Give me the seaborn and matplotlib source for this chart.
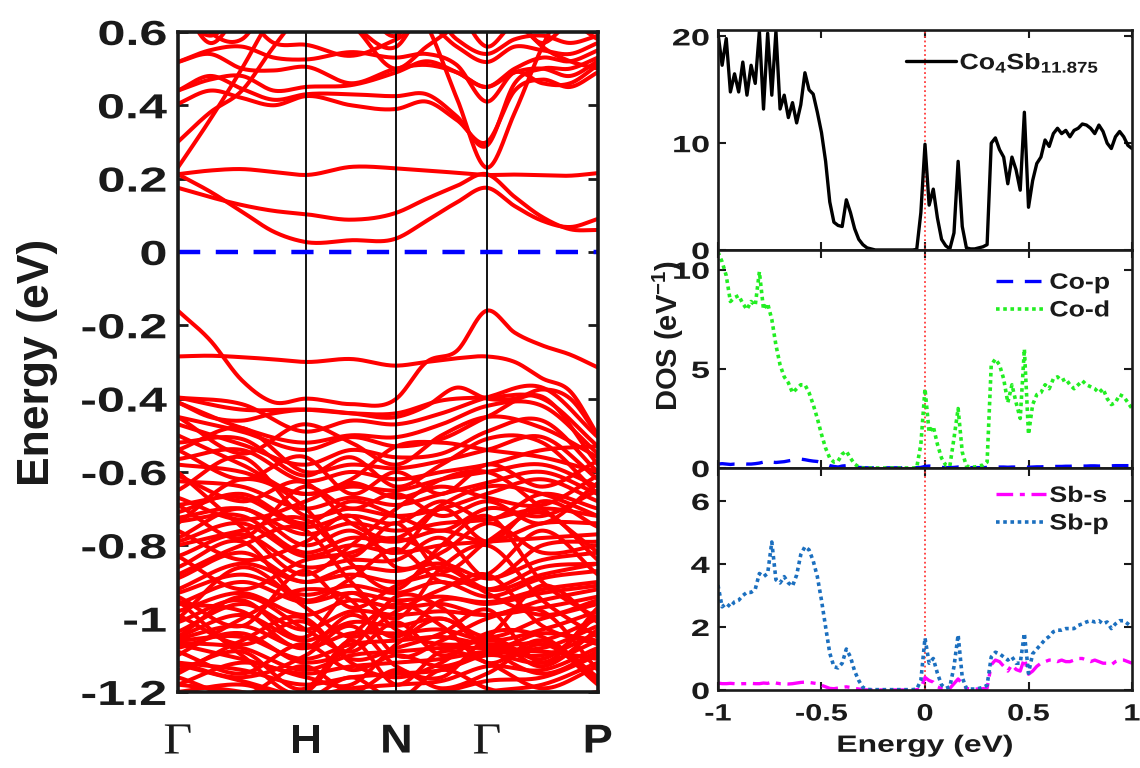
import numpy as np
import matplotlib
matplotlib.use("Agg")
import matplotlib.pyplot as plt
from matplotlib.patheffects import AbstractPathEffect
from matplotlib.transforms import Affine2D
import seaborn as sns

# ---------------- band structure: k-path ----------------
path_labels = ["Γ", "H", "N", "Γ", "P"]
path_k = [0.0, 1.0, 1.707, 2.414, 3.280]

# sampling points along the path (fine: near-gap bands, coarse: deep valence manifold)
k_fine = [0.0, 0.25, 0.5, 0.75, 1.0, 1.354, 1.707, 1.943, 2.178, 2.414, 2.631, 2.847, 3.064, 3.280]
k_coarse = [0.0, 0.5, 1.0, 1.354, 1.707, 2.060, 2.414, 2.847, 3.280]

# conduction bands (eV) on k_fine
cond_bands = [
    [0.212, 0.222, 0.226, 0.218, 0.210, 0.232, 0.228, 0.222, 0.216, 0.210, 0.211, 0.209, 0.208, 0.215],
    [0.212, 0.165, 0.110, 0.055, 0.027, 0.032, 0.037, 0.085, 0.135, 0.175, 0.125, 0.085, 0.068, 0.090],
    [0.175, 0.150, 0.128, 0.112, 0.103, 0.088, 0.107, 0.145, 0.180, 0.212, 0.150, 0.095, 0.062, 0.060],
    [0.230, 0.360, 0.500, 0.650, 0.750, 0.760, 0.720, 0.620, 0.420, 0.230, 0.380, 0.560, 0.700, 0.760],
    [0.300, 0.380, 0.440, 0.560, 0.660, 0.620, 0.500, 0.560, 0.620, 0.700, 0.640, 0.560, 0.520, 0.500],
    [0.404, 0.440, 0.420, 0.400, 0.425, 0.400, 0.390, 0.410, 0.360, 0.300, 0.440, 0.470, 0.450, 0.490],
    [0.440, 0.480, 0.445, 0.415, 0.430, 0.430, 0.425, 0.430, 0.370, 0.290, 0.460, 0.500, 0.500, 0.530],
    [0.518, 0.540, 0.500, 0.495, 0.505, 0.460, 0.500, 0.510, 0.490, 0.450, 0.500, 0.530, 0.520, 0.550],
    [0.518, 0.550, 0.560, 0.530, 0.525, 0.545, 0.530, 0.540, 0.510, 0.410, 0.490, 0.460, 0.460, 0.510],
    [0.440, 0.470, 0.480, 0.440, 0.450, 0.455, 0.490, 0.520, 0.490, 0.450, 0.490, 0.500, 0.480, 0.520],
    [0.650, 0.590, 0.640, 0.570, 0.565, 0.535, 0.580, 0.620, 0.560, 0.518, 0.560, 0.550, 0.540, 0.570],
    [0.700, 0.570, 0.660, 0.700, 0.680, 0.620, 0.560, 0.660, 0.580, 0.540, 0.580, 0.590, 0.570, 0.590],
    [0.720, 0.600, 0.580, 0.700, 0.750, 0.720, 0.590, 0.700, 0.660, 0.560, 0.620, 0.570, 0.620, 0.580],
]

# upper valence bands (eV) on k_fine
top_valence_bands = [
    [-0.160, -0.240, -0.350, -0.410, -0.400, -0.415, -0.400, -0.300, -0.270, -0.160, -0.220, -0.255, -0.280, -0.315],
    [-0.285, -0.283, -0.287, -0.293, -0.300, -0.292, -0.310, -0.300, -0.290, -0.285, -0.300, -0.345, -0.380, -0.500],
    [-0.410, -0.450, -0.460, -0.440, -0.430, -0.440, -0.450, -0.420, -0.370, -0.400, -0.400, -0.375, -0.400, -0.500],
]

# deep valence manifold (eV) on k_coarse: G, G-H, H, H-N, N, N-G, G, G-P, P
deep_bands = [
    [-0.397, -0.430, -0.430, -0.440, -0.440, -0.405, -0.397, -0.400, -0.530],
    [-0.397, -0.415, -0.490, -0.460, -0.470, -0.440, -0.397, -0.370, -0.505],
    [-0.410, -0.480, -0.520, -0.500, -0.505, -0.470, -0.420, -0.420, -0.550],
    [-0.450, -0.490, -0.540, -0.505, -0.530, -0.510, -0.450, -0.395, -0.580],
    [-0.470, -0.525, -0.580, -0.540, -0.560, -0.550, -0.490, -0.460, -0.600],
    [-0.540, -0.480, -0.600, -0.580, -0.590, -0.570, -0.540, -0.505, -0.620],
    [-0.565, -0.540, -0.625, -0.600, -0.620, -0.600, -0.580, -0.540, -0.530],
    [-0.580, -0.600, -0.660, -0.640, -0.650, -0.620, -0.600, -0.580, -0.640],
    [-0.625, -0.640, -0.700, -0.670, -0.690, -0.660, -0.630, -0.600, -0.660],
    [-0.650, -0.560, -0.720, -0.700, -0.720, -0.700, -0.660, -0.620, -0.680],
    [-0.690, -0.670, -0.750, -0.720, -0.740, -0.680, -0.730, -0.660, -0.700],
    [-0.725, -0.700, -0.770, -0.740, -0.760, -0.740, -0.730, -0.700, -0.720],
    [-0.735, -0.720, -0.820, -0.780, -0.790, -0.760, -0.790, -0.740, -0.740],
    [-0.790, -0.740, -0.830, -0.800, -0.820, -0.800, -0.790, -0.780, -0.770],
    [-0.830, -0.770, -0.860, -0.840, -0.840, -0.780, -0.890, -0.800, -0.790],
    [-0.890, -0.820, -0.900, -0.860, -0.870, -0.850, -0.890, -0.840, -0.820],
    [-0.920, -0.850, -0.900, -0.880, -0.900, -0.880, -0.920, -0.860, -0.850],
    [-0.930, -0.880, -0.935, -0.910, -0.930, -0.900, -0.940, -0.890, -0.870],
    [-0.960, -0.900, -0.955, -0.930, -0.950, -0.940, -0.955, -0.920, -0.900],
    [-0.980, -0.930, -0.990, -0.950, -0.970, -0.960, -0.990, -0.950, -0.920],
    [-1.036, -0.960, -1.030, -0.980, -0.990, -0.980, -0.990, -0.970, -0.940],
    [-1.050, -0.990, -1.060, -1.010, -1.020, -1.000, -1.050, -1.000, -0.960],
    [-1.055, -1.020, -1.080, -1.040, -1.040, -1.030, -1.060, -1.030, -0.980],
    [-1.060, -1.050, -1.110, -1.070, -1.060, -1.050, -1.070, -1.060, -1.000],
    [-1.065, -1.080, -1.140, -1.100, -1.090, -1.080, -1.080, -1.080, -1.020],
    [-1.070, -1.110, -1.150, -1.130, -1.120, -1.110, -1.090, -1.100, -1.040],
    [-1.120, -1.140, -1.180, -1.160, -1.150, -1.140, -1.100, -1.120, -1.060],
    [-1.125, -1.170, -1.210, -1.190, -1.180, -1.170, -1.130, -1.140, -1.080],
    [-1.180, -1.200, -1.240, -1.220, -1.210, -1.200, -1.170, -1.160, -1.100],
    [-1.210, -1.230, -1.260, -1.250, -1.240, -1.230, -1.200, -1.180, -1.120],
    [-0.600, -0.750, -0.880, -0.800, -0.700, -0.620, -0.600, -0.700, -0.820],
    [-0.740, -0.620, -0.700, -0.850, -0.920, -0.800, -0.720, -0.900, -1.000],
    [-0.880, -0.800, -0.760, -0.900, -1.000, -0.860, -0.800, -0.950, -1.050],
    [-1.000, -0.860, -0.970, -1.050, -0.980, -0.920, -0.880, -1.020, -1.070],
    [-1.100, -1.000, -0.920, -0.950, -1.100, -1.060, -1.000, -0.980, -1.140],
    [-1.150, -1.060, -1.000, -1.120, -1.160, -1.120, -1.040, -1.050, -1.160],
    [-0.950, -1.100, -1.200, -1.050, -0.960, -1.020, -1.120, -1.060, -1.180],
    [-0.500, -0.580, -0.660, -0.620, -0.530, -0.520, -0.540, -0.560, -0.600],
    [-0.540, -0.620, -0.560, -0.660, -0.600, -0.660, -0.580, -0.640, -0.570],
    [-0.690, -0.780, -0.640, -0.700, -0.660, -0.720, -0.680, -0.740, -0.630],
    [-0.780, -0.700, -0.800, -0.760, -0.820, -0.700, -0.790, -0.680, -0.750],
    [-0.830, -0.920, -0.840, -0.820, -0.780, -0.840, -0.920, -0.880, -0.850],
    [-0.960, -0.980, -1.080, -0.990, -1.050, -0.950, -0.960, -0.930, -0.910],
    [-1.050, -0.940, -1.030, -1.090, -1.010, -1.100, -1.050, -1.110, -0.990],
    [-1.120, -1.160, -1.100, -1.020, -1.130, -1.160, -1.060, -1.130, -1.030],
    [-1.180, -1.120, -1.160, -1.180, -1.070, -1.000, -1.080, -1.150, -1.090],
    [-0.450, -0.550, -0.470, -0.520, -0.580, -0.500, -0.450, -0.480, -0.560],
    [-0.710, -0.660, -0.740, -0.680, -0.720, -0.760, -0.700, -0.720, -0.650],
    [-0.610, -0.680, -0.630, -0.740, -0.780, -0.690, -0.640, -0.660, -0.720],
    [-0.760, -0.840, -0.790, -0.720, -0.860, -0.820, -0.740, -0.820, -0.800],
    [-0.860, -0.790, -0.950, -0.890, -0.810, -0.900, -0.880, -0.760, -0.880],
    [-0.940, -1.020, -0.870, -0.970, -0.910, -0.860, -0.930, -0.990, -0.950],
    [-1.010, -0.950, -1.050, -0.930, -1.030, -1.070, -1.050, -0.910, -1.010],
    [-1.080, -1.040, -1.120, -1.080, -0.940, -0.970, -1.075, -1.040, -1.060],
    [-1.090, -1.150, -1.070, -1.140, -1.100, -1.130, -1.095, -1.090, -1.110],
    [-1.140, -1.090, -1.190, -1.060, -1.180, -1.090, -1.120, -1.190, -1.130],
    [-1.160, -1.210, -1.130, -1.200, -1.140, -1.190, -1.150, -1.070, -1.170],
    [-1.200, -1.180, -1.220, -1.160, -1.220, -1.140, -1.190, -1.220, -1.200],
    [-0.670, -0.730, -0.680, -0.630, -0.670, -0.640, -0.670, -0.690, -0.610],
    [-0.800, -0.760, -0.730, -0.830, -0.740, -0.870, -0.790, -0.710, -0.840],
    [-0.520, -0.510, -0.610, -0.560, -0.640, -0.580, -0.510, -0.520, -0.660],
    [-0.990, -1.070, -1.010, -1.110, -1.080, -1.040, -0.975, -1.120, -0.970],
]

band_yticks = [-1.2, -1.0, -0.8, -0.6, -0.4, -0.2, 0.0, 0.2, 0.4, 0.6]
band_yticklabels = ["-1.2", "-1", "-0.8", "-0.6", "-0.4", "-0.2", "0", "0.2", "0.4", "0.6"]

# ---------------- density of states ----------------
energy = np.round(np.linspace(-1.0, 1.0, 101), 2)

dos_total = [
    20.3, 17.3, 19.8, 14.8, 16.5, 14.8, 17.6, 14.5, 17.3, 15.6,
    20.5, 13.2, 20.3, 14.5, 20.5, 13.2, 14.5, 12.4, 13.8, 11.9,
    13.6, 16.6, 15.0, 14.6, 12.9, 11.0, 8.3, 4.5, 2.6, 2.3,
    2.2, 4.7, 3.5, 2.0, 1.0, 0.5, 0.2, 0.1, 0.0, 0.0,
    0.0, 0.0, 0.0, 0.0, 0.0, 0.0, 0.0, 0.0, 0.05, 3.5,
    9.9, 4.2, 5.7, 3.0, 1.0, 0.4, 0.1, 1.6, 8.3, 2.2,
    0.2, 0.1, 0.1, 0.2, 0.3, 0.5, 10.0, 10.5, 9.4, 8.7,
    6.2, 8.7, 7.5, 5.6, 12.9, 4.0, 6.5, 8.1, 8.7, 10.3,
    9.7, 10.9, 11.4, 10.9, 11.2, 10.6, 11.2, 11.4, 11.8, 11.7,
    11.4, 10.9, 11.7, 11.1, 10.0, 9.5, 10.6, 11.1, 10.6, 9.8,
    9.5,
]

co_p = [
    0.20, 0.22, 0.20, 0.18, 0.20, 0.20, 0.22, 0.20, 0.20, 0.22,
    0.25, 0.30, 0.38, 0.30, 0.28, 0.30, 0.32, 0.36, 0.40, 0.43,
    0.45, 0.42, 0.38, 0.35, 0.33, 0.28, 0.20, 0.12, 0.08, 0.05,
    0.10, 0.12, 0.08, 0.05, 0.03, 0.02, 0.01, 0.01, 0.01, 0.01,
    0.01, 0.01, 0.01, 0.01, 0.01, 0.01, 0.01, 0.01, 0.02, 0.03,
    0.08, 0.10, 0.08, 0.05, 0.03, 0.02, 0.02, 0.03, 0.05, 0.03,
    0.02, 0.02, 0.02, 0.02, 0.02, 0.03, 0.05, 0.06, 0.05, 0.05,
    0.04, 0.05, 0.05, 0.04, 0.06, 0.04, 0.05, 0.06, 0.06, 0.07,
    0.07, 0.08, 0.08, 0.08, 0.09, 0.09, 0.10, 0.10, 0.10, 0.10,
    0.11, 0.11, 0.10, 0.11, 0.12, 0.11, 0.12, 0.12, 0.12, 0.12,
    0.12,
]

co_d = [
    10.9, 10.4, 9.7, 8.4, 8.6, 8.7, 8.3, 8.0, 8.4, 8.2,
    9.9, 8.0, 8.3, 7.5, 6.2, 5.2, 4.6, 4.3, 3.8, 4.0,
    4.2, 4.2, 3.8, 3.2, 2.5, 1.7, 1.0, 0.5, 0.3, 0.35,
    0.7, 0.85, 0.5, 0.2, 0.05, 0.0, 0.0, 0.0, 0.0, 0.0,
    0.0, 0.0, 0.0, 0.0, 0.0, 0.0, 0.0, 0.0, 0.02, 1.2,
    4.0, 1.8, 2.1, 1.2, 0.5, 0.15, 0.1, 1.5, 3.0, 0.8,
    0.1, 0.05, 0.05, 0.1, 0.15, 0.3, 5.2, 5.5, 5.2, 4.5,
    3.3, 4.2, 3.3, 2.5, 6.0, 1.7, 3.2, 3.7, 3.8, 4.2,
    4.0, 4.5, 4.6, 4.4, 4.5, 4.2, 4.0, 4.2, 4.4, 4.2,
    4.1, 4.0, 3.8, 4.0, 3.5, 3.2, 3.3, 3.7, 3.6, 3.3,
    3.0,
]

sb_s = [
    0.22, 0.20, 0.20, 0.21, 0.20, 0.19, 0.20, 0.20, 0.21, 0.20,
    0.20, 0.22, 0.21, 0.25, 0.22, 0.20, 0.20, 0.19, 0.20, 0.22,
    0.24, 0.25, 0.24, 0.22, 0.20, 0.15, 0.10, 0.05, 0.04, 0.06,
    0.08, 0.10, 0.08, 0.05, 0.03, 0.01, 0.00, 0.00, 0.00, 0.00,
    0.00, 0.00, 0.00, 0.00, 0.00, 0.00, 0.00, 0.00, 0.01, 0.05,
    0.40, 0.30, 0.25, 0.10, 0.05, 0.03, 0.05, 0.20, 0.35, 0.20,
    0.05, 0.03, 0.03, 0.03, 0.04, 0.06, 0.80, 0.95, 0.90, 0.75,
    0.60, 0.80, 0.65, 0.60, 1.00, 0.50, 0.60, 0.75, 0.85, 0.90,
    0.95, 0.95, 0.90, 0.95, 0.90, 0.90, 0.95, 1.00, 1.00, 0.95,
    0.90, 0.95, 0.90, 0.85, 0.85, 0.80, 0.90, 0.95, 0.95, 0.90,
    0.85,
]

sb_p = [
    3.33, 2.64, 2.75, 2.64, 2.80, 2.85, 3.00, 3.10, 3.10, 3.20,
    3.70, 3.60, 3.70, 4.70, 3.50, 3.40, 3.60, 3.40, 3.30, 3.65,
    4.30, 4.55, 4.45, 4.10, 3.60, 2.85, 2.00, 1.17, 0.74, 0.70,
    0.85, 1.30, 1.05, 0.60, 0.30, 0.08, 0.02, 0.01, 0.01, 0.01,
    0.01, 0.01, 0.01, 0.01, 0.01, 0.01, 0.01, 0.01, 0.03, 0.30,
    1.65, 0.85, 1.00, 0.53, 0.16, 0.05, 0.10, 0.74, 1.75, 0.40,
    0.05, 0.03, 0.03, 0.05, 0.08, 0.15, 1.05, 1.20, 1.15, 1.05,
    0.95, 1.05, 0.85, 0.85, 1.80, 0.53, 1.15, 1.30, 1.45, 1.60,
    1.70, 1.85, 1.90, 1.90, 1.95, 1.95, 1.95, 2.05, 2.10, 2.16,
    2.20, 2.16, 2.20, 2.10, 2.16, 1.95, 2.10, 2.20, 2.20, 2.10,
    2.00,
]

dos_xticks = [-1.0, -0.5, 0.0, 0.5, 1.0]
dos_xticklabels = ["-1", "-0.5", "0", "0.5", "1"]


def smooth_band(knots, values, n=40):
    """Cubic Hermite curve through the sampled (k, E) points."""
    kn = np.asarray(knots, dtype=float)
    ev = np.asarray(values, dtype=float)
    slope = np.gradient(ev, kn)
    xs, ys = [], []
    for i in range(len(kn) - 1):
        h = kn[i + 1] - kn[i]
        t = np.linspace(0.0, 1.0, n, endpoint=(i == len(kn) - 2))
        h00 = 2 * t**3 - 3 * t**2 + 1
        h10 = t**3 - 2 * t**2 + t
        h01 = -2 * t**3 + 3 * t**2
        h11 = t**3 - t**2
        xs.append(kn[i] + t * h)
        ys.append(h00 * ev[i] + h10 * h * slope[i] + h01 * ev[i + 1] + h11 * h * slope[i + 1])
    return np.concatenate(xs), np.concatenate(ys)


class WideText(AbstractPathEffect):
    """Draw text glyphs widened horizontally about a chosen anchor."""

    def __init__(self, sx=1.4, anchor="center"):
        super().__init__()
        self.sx = sx
        self.anchor = anchor

    def draw_path(self, renderer, gc, tpath, affine, rgbFace=None):
        ext = tpath.get_extents(affine)
        if self.anchor == "right":
            xa = ext.x1
        elif self.anchor == "left":
            xa = ext.x0
        else:
            xa = 0.5 * (ext.x0 + ext.x1)
        widen = Affine2D().translate(-xa, 0).scale(self.sx, 1.0).translate(xa, 0)
        renderer.draw_path(gc, tpath, affine + widen, rgbFace)


def widen(texts, sx, anchor):
    for t in texts:
        t.set_path_effects([WideText(sx, anchor)])


# ---------------- style ----------------
sns.set_theme(style="ticks")
plt.rcParams["font.family"] = ["Liberation Sans", "DejaVu Sans"]
plt.rcParams["font.weight"] = "bold"
plt.rcParams["axes.labelweight"] = "bold"
plt.rcParams["mathtext.fontset"] = "custom"
plt.rcParams["mathtext.rm"] = "Liberation Sans:bold"
plt.rcParams["mathtext.bf"] = "Liberation Sans:bold"
plt.rcParams["mathtext.it"] = "Liberation Sans:bold"
plt.rcParams["mathtext.default"] = "rm"
plt.rcParams["axes.facecolor"] = "white"
plt.rcParams["figure.facecolor"] = "white"

INK = "#1a1a1a"
fig = plt.figure(figsize=(11.4, 7.68), dpi=100)

# ---------------- band structure panel ----------------
ax_b = fig.add_axes([0.156, 0.099, 0.3684, 0.8594])
RED = "#ff0000"
for band in deep_bands:
    kx, ey = smooth_band(k_coarse, band)
    ax_b.plot(kx, ey, color=RED, lw=2.9, solid_capstyle="round", zorder=2)
for band in top_valence_bands + cond_bands:
    kx, ey = smooth_band(k_fine, band)
    ax_b.plot(kx, ey, color=RED, lw=2.9, solid_capstyle="round", zorder=2)

for kp in path_k[1:-1]:
    ax_b.axvline(kp, color="black", lw=1.3, zorder=3)
ax_b.axhline(0.0, color="#0000ff", lw=3.2, linestyle=(0, (5, 3.5)), zorder=4)

ax_b.set_xlim(path_k[0], path_k[-1])
ax_b.set_ylim(-1.2, 0.6)
ax_b.set_yticks(band_yticks)
ax_b.set_yticklabels(band_yticklabels, fontsize=25, fontweight="bold")
ax_b.set_xticks(path_k)
ax_b.set_xticklabels(path_labels, fontsize=29, fontweight="bold")
for lab in ax_b.get_xticklabels():
    if lab.get_text() == "Γ":
        lab.set_fontfamily(["Liberation Serif", "DejaVu Serif"])
        lab.set_fontweight("normal")
        lab.set_fontsize(32)
ax_b.tick_params(axis="x", length=0, pad=22, colors=INK)
ax_b.tick_params(axis="y", direction="in", length=7, width=2, left=True, right=True,
                 pad=8, colors=INK)
for sp in ax_b.spines.values():
    sp.set_linewidth(2.6)
    sp.set_color(INK)
    sp.set_zorder(5)
ax_b.set_ylabel("Energy (eV)", fontsize=32, fontweight="bold", color=INK)
ax_b.yaxis.label.set_verticalalignment("center")
ax_b.yaxis.set_label_coords(-0.335, 0.5)
widen(ax_b.get_yticklabels(), 1.45, "right")
widen(ax_b.get_xticklabels(), 1.12, "center")

# ---------------- DOS panels ----------------
x0, w = 0.6298, 0.3632
ax_t = fig.add_axes([x0, 0.6745, w, 0.2864])
ax_m = fig.add_axes([x0, 0.3906, w, 0.2839])
ax_d = fig.add_axes([x0, 0.1016, w, 0.2890])

sns.lineplot(x=energy, y=dos_total, ax=ax_t, color="black", lw=2.4,
             label="Co$_{4}$Sb$_{11.875}$")
sns.lineplot(x=energy, y=co_p, ax=ax_m, color="#0000ff", lw=2.4,
             linestyle=(0, (5, 3.5)), label="Co-p")
sns.lineplot(x=energy, y=co_d, ax=ax_m, color="#22ee22", lw=2.6,
             linestyle=(0, (1, 1)), label="Co-d")
sns.lineplot(x=energy, y=sb_s, ax=ax_d, color="#ff00ff", lw=2.4,
             linestyle=(0, (5, 2, 1.5, 2)), label="Sb-s")
sns.lineplot(x=energy, y=sb_p, ax=ax_d, color="#1b6fbf", lw=2.6,
             linestyle=(0, (1, 1)), label="Sb-p")

panel_ylims = [(0, 20.6), (0, 11.0), (0, 7.05)]
panel_yticks = [[0, 10, 20], [0, 5, 10], [0, 2, 4, 6]]
legend_anchor = [(0.455, 0.85), (0.672, 0.784), (0.672, 0.81)]
for ax, yl, yt, anc in zip([ax_t, ax_m, ax_d], panel_ylims, panel_yticks, legend_anchor):
    ax.axvline(0.0, color="#ff3b3b", lw=1.3, linestyle=(0, (1, 1.5)), zorder=1)
    ax.set_xlim(-1, 1)
    ax.set_ylim(*yl)
    ax.set_yticks(yt)
    ax.set_yticklabels([str(v) for v in yt], fontsize=17, fontweight="bold")
    ax.set_xticks(dos_xticks)
    ax.tick_params(direction="in", length=6, width=1.5, top=True, right=True,
                   colors=INK, pad=6)
    for sp in ax.spines.values():
        sp.set_linewidth(1.9)
        sp.set_color(INK)
    ax.set_xlabel("")
    ax.set_ylabel("")
    leg = ax.legend(loc="center left", bbox_to_anchor=anc, frameon=False, fontsize=16,
                    handlelength=2.25, handletextpad=0.15, labelspacing=0.3,
                    borderpad=0.0, borderaxespad=0.0)
    for txt in leg.get_texts():
        txt.set_fontweight("bold")
        txt.set_color(INK)
    widen(leg.get_texts(), 1.2, "left")
    widen(ax.get_yticklabels(), 1.45, "right")

ax_t.set_xticklabels([])
ax_m.set_xticklabels([])
ax_d.set_xticklabels(dos_xticklabels, fontsize=17, fontweight="bold")
ax_d.tick_params(axis="x", pad=9)
widen(ax_d.get_xticklabels(), 1.3, "center")
ax_d.set_xlabel("Energy (eV)", fontsize=17, fontweight="bold", color=INK, labelpad=6)
widen([ax_d.xaxis.label], 1.35, "center")
fig.text(668 / 1140, 1 - 335 / 768, "DOS (eV$^{-1}$)", rotation=90, ha="center",
         va="center", fontsize=21, fontweight="bold", color=INK)

fig.savefig("out.png", dpi=100, facecolor="white")
